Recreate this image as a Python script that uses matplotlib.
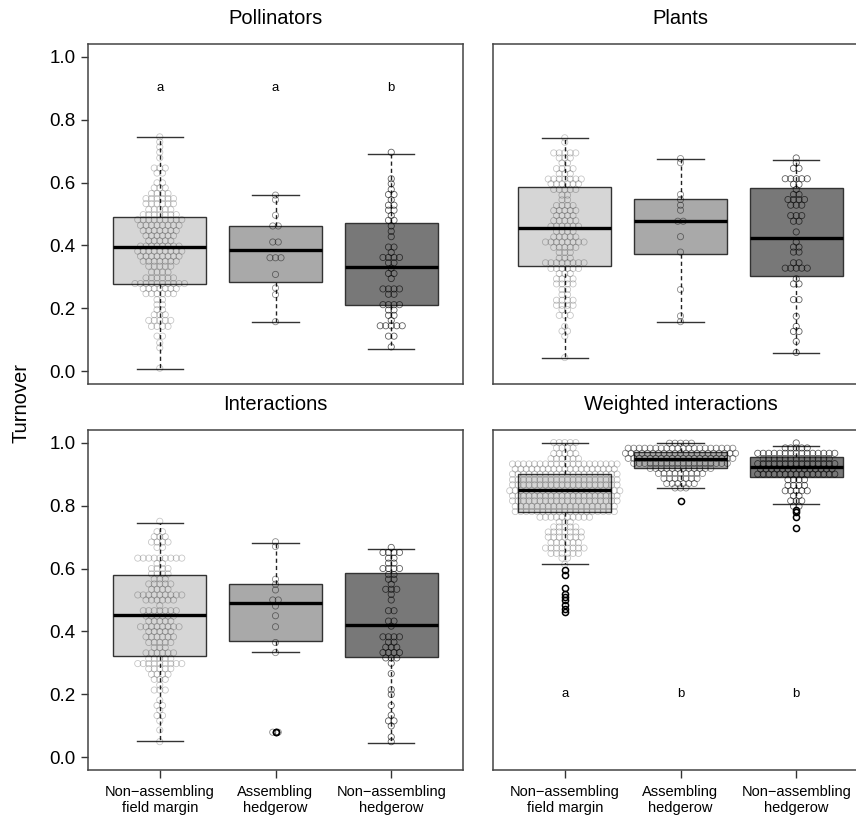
import matplotlib.pyplot as plt
import numpy as np

plt.rcParams['font.family'] = ['Liberation Sans', 'DejaVu Sans']

W, H = 856, 817

groups = ['Non\u2212assembling\nfield margin', 'Assembling\nhedgerow', 'Non\u2212assembling\nhedgerow']
titles = ['Pollinators', 'Plants', 'Interactions', 'Weighted interactions']

# ---- beeswarm rows: row level + number of dots in the row ----
poll1_y = [0.745, 0.729, 0.713, 0.696, 0.678, 0.646, 0.630, 0.599, 0.583, 0.565, 0.549, 0.533, 0.514,
           0.498, 0.482, 0.464, 0.447, 0.431, 0.415, 0.398, 0.382, 0.366, 0.350, 0.334, 0.315, 0.297,
           0.279, 0.263, 0.247, 0.228, 0.212, 0.196, 0.180, 0.162, 0.143, 0.112, 0.091, 0.075, 0.010]
poll1_n = [1, 1, 1, 1, 1, 3, 2, 2, 3, 4, 6, 6, 5, 7, 9, 8, 7, 6, 5, 8, 9, 8, 7, 5, 4, 6, 10, 7, 6, 2,
           2, 2, 3, 5, 4, 2, 1, 1, 1]
poll2_y = [0.560, 0.545, 0.496, 0.462, 0.411, 0.361, 0.308, 0.265, 0.244, 0.158]
poll2_n = [1, 1, 1, 2, 2, 3, 1, 1, 1, 1]
poll3_y = [0.696, 0.612, 0.596, 0.578, 0.562, 0.545, 0.528, 0.512, 0.495, 0.480, 0.462, 0.445, 0.428,
           0.395, 0.378, 0.362, 0.345, 0.328, 0.311, 0.295, 0.262, 0.245, 0.212, 0.195, 0.178, 0.162,
           0.145, 0.112, 0.078]
poll3_n = [1, 1, 1, 1, 2, 1, 2, 2, 1, 2, 1, 1, 1, 2, 1, 4, 2, 1, 2, 1, 4, 2, 4, 2, 2, 1, 5, 2, 1]

plant1_y = [0.742, 0.728, 0.694, 0.678, 0.662, 0.644, 0.628, 0.611, 0.596, 0.578, 0.560, 0.545, 0.527,
            0.511, 0.495, 0.479, 0.461, 0.445, 0.427, 0.411, 0.394, 0.378, 0.360, 0.345, 0.327, 0.311,
            0.294, 0.278, 0.260, 0.244, 0.226, 0.210, 0.196, 0.178, 0.143, 0.128, 0.112, 0.044]
plant1_n = [1, 1, 5, 3, 2, 4, 3, 7, 6, 5, 2, 2, 4, 5, 4, 5, 6, 4, 5, 8, 5, 3, 3, 8, 6, 3, 4, 4, 2, 2,
            4, 4, 2, 3, 1, 2, 1, 1]
plant2_y = [0.676, 0.663, 0.562, 0.546, 0.528, 0.512, 0.477, 0.428, 0.379, 0.260, 0.176, 0.158]
plant2_n = [1, 1, 1, 1, 1, 1, 2, 1, 1, 1, 1, 1]
plant3_y = [0.678, 0.663, 0.645, 0.612, 0.594, 0.578, 0.562, 0.546, 0.528, 0.495, 0.477, 0.443, 0.411,
            0.395, 0.379, 0.345, 0.328, 0.294, 0.278, 0.228, 0.175, 0.143, 0.127, 0.095, 0.060]
plant3_n = [1, 1, 2, 5, 2, 1, 2, 4, 3, 3, 2, 1, 1, 2, 2, 2, 5, 1, 2, 2, 1, 1, 2, 1, 1]

int1_y = [0.750, 0.717, 0.701, 0.684, 0.667, 0.633, 0.616, 0.600, 0.583, 0.567, 0.551, 0.534, 0.516,
          0.500, 0.482, 0.466, 0.449, 0.433, 0.415, 0.400, 0.383, 0.365, 0.349, 0.332, 0.314, 0.298,
          0.282, 0.264, 0.248, 0.230, 0.214, 0.182, 0.165, 0.150, 0.133, 0.116, 0.087, 0.050]
int1_n = [1, 2, 3, 4, 2, 9, 2, 4, 4, 3, 5, 4, 9, 6, 1, 7, 6, 5, 8, 5, 6, 5, 3, 6, 5, 9, 5, 4, 3, 1,
          3, 1, 2, 1, 2, 1, 1, 1]
int2_y = [0.685, 0.670, 0.566, 0.550, 0.532, 0.500, 0.481, 0.450, 0.415, 0.365, 0.333, 0.080]
int2_n = [1, 1, 1, 1, 1, 2, 1, 1, 1, 1, 1, 2]
int3_y = [0.667, 0.651, 0.633, 0.617, 0.600, 0.581, 0.566, 0.550, 0.534, 0.518, 0.500, 0.466, 0.433,
          0.417, 0.383, 0.366, 0.350, 0.333, 0.316, 0.299, 0.266, 0.215, 0.200, 0.165, 0.134, 0.116,
          0.100, 0.065, 0.050]
int3_n = [1, 4, 2, 2, 4, 2, 2, 1, 3, 1, 1, 2, 2, 1, 4, 2, 3, 4, 3, 1, 1, 1, 1, 1, 1, 2, 1, 1, 1]

wint1_y = [1.000, 0.983, 0.965, 0.949, 0.932, 0.916, 0.900, 0.882, 0.866, 0.847, 0.831, 0.815, 0.797,
           0.781, 0.763, 0.748, 0.732, 0.716, 0.700, 0.682, 0.665, 0.648, 0.633, 0.613]
wint1_n = [5, 4, 5, 6, 20, 19, 20, 20, 20, 21, 20, 20, 19, 19, 10, 3, 5, 7, 7, 6, 8, 6, 2, 1]
wint2_y = [0.998, 0.982, 0.966, 0.950, 0.934, 0.918, 0.902, 0.886, 0.870, 0.856]
wint2_n = [5, 20, 21, 20, 18, 12, 9, 7, 6, 3]
wint3_y = [0.999, 0.983, 0.966, 0.949, 0.933, 0.916, 0.900, 0.882, 0.864, 0.847, 0.831, 0.815, 0.798]
wint3_n = [1, 5, 15, 13, 15, 14, 15, 4, 4, 5, 2, 3, 2]

# ---- box statistics ----
poll_lo = [0.009, 0.157, 0.070]
poll_q1 = [0.278, 0.285, 0.210]
poll_med = [0.395, 0.385, 0.331]
poll_q3 = [0.490, 0.461, 0.472]
poll_hi = [0.744, 0.560, 0.691]

plant_lo = [0.041, 0.157, 0.057]
plant_q1 = [0.334, 0.372, 0.303]
plant_med = [0.456, 0.477, 0.425]
plant_q3 = [0.585, 0.549, 0.583]
plant_hi = [0.740, 0.676, 0.672]

int_lo = [0.052, 0.335, 0.046]
int_q1 = [0.323, 0.370, 0.319]
int_med = [0.451, 0.489, 0.421]
int_q3 = [0.581, 0.550, 0.586]
int_hi = [0.745, 0.680, 0.663]
int_out = [[], [0.080, 0.082], []]

wint_lo = [0.614, 0.856, 0.805]
wint_q1 = [0.781, 0.919, 0.891]
wint_med = [0.848, 0.949, 0.921]
wint_q3 = [0.900, 0.970, 0.954]
wint_hi = [1.000, 0.998, 0.990]
wint_out = [[0.595, 0.580, 0.537, 0.520, 0.511, 0.500, 0.484, 0.470, 0.463], [0.813],
            [0.786, 0.778, 0.763, 0.730]]

letters_poll = ['a', 'a', 'b']
letters_wint = ['a', 'b', 'b']

panels = [
    dict(rows=[(poll1_y, poll1_n), (poll2_y, poll2_n), (poll3_y, poll3_n)],
         box=(poll_lo, poll_q1, poll_med, poll_q3, poll_hi), out=[[], [], []],
         letters=letters_poll, let_y=0.9),
    dict(rows=[(plant1_y, plant1_n), (plant2_y, plant2_n), (plant3_y, plant3_n)],
         box=(plant_lo, plant_q1, plant_med, plant_q3, plant_hi), out=[[], [], []],
         letters=None, let_y=None),
    dict(rows=[(int1_y, int1_n), (int2_y, int2_n), (int3_y, int3_n)],
         box=(int_lo, int_q1, int_med, int_q3, int_hi), out=int_out,
         letters=None, let_y=None),
    dict(rows=[(wint1_y, wint1_n), (wint2_y, wint2_n), (wint3_y, wint3_n)],
         box=(wint_lo, wint_q1, wint_med, wint_q3, wint_hi), out=wint_out,
         letters=letters_wint, let_y=0.2),
]

box_fill = ['#d6d6d6', '#a9a9a9', '#787878']
dot_alpha = [0.22, 0.45, 0.62]

# axes boxes in pixels: left, top, right, bottom (right column runs off the image)
px_boxes = [(88, 44, 463, 384), (493, 44, 868, 384),
            (88, 430, 463, 770), (493, 430, 868, 770)]

XLIM = (0.38, 3.62)
DX = 5.5 * (XLIM[1] - XLIM[0]) / 375.0

fig = plt.figure(figsize=(W / 100, H / 100), dpi=100)

for i, p in enumerate(panels):
    l, t, r, b = px_boxes[i]
    ax = fig.add_axes([l / W, 1 - b / H, (r - l) / W, (b - t) / H])
    lo, q1, med, q3, hi = p['box']
    stats = [dict(whislo=lo[k], q1=q1[k], med=med[k], q3=q3[k], whishi=hi[k], fliers=p['out'][k])
             for k in range(3)]
    bp = ax.bxp(stats, positions=[1, 2, 3], widths=0.8, capwidths=0.4, patch_artist=True,
                boxprops=dict(edgecolor='#333333', linewidth=1.0),
                whiskerprops=dict(color='#222222', linestyle=(0, (3, 2.2)), linewidth=1.0),
                capprops=dict(color='#333333', linewidth=1.0),
                medianprops=dict(color='black', linewidth=2.4),
                flierprops=dict(marker='o', markerfacecolor='none', markeredgecolor='black',
                                markersize=4.4, markeredgewidth=1.1),
                manage_ticks=False, zorder=2)
    for k, patch in enumerate(bp['boxes']):
        patch.set_facecolor(box_fill[k])

    for k, (ys, ns) in enumerate(p['rows']):
        xs, yy = [], []
        for y, n in zip(ys, ns):
            for j in range(n):
                xs.append(k + 1 + (j - (n - 1) / 2) * DX)
                yy.append(y)
        ax.scatter(xs, yy, s=20, facecolors='none', edgecolors=(0, 0, 0, dot_alpha[k]),
                   linewidths=0.6, zorder=4)

    if p['letters']:
        for k, s in enumerate(p['letters']):
            ax.text(k + 1, p['let_y'], s, ha='center', va='center', fontsize=9.5)

    ax.set_xlim(*XLIM)
    ax.set_ylim(-0.04, 1.04)
    for sp in ax.spines.values():
        sp.set_color('#444444')
        sp.set_linewidth(1.1)

    if i % 2 == 0:
        ax.set_yticks(np.arange(0, 1.01, 0.2))
        ax.set_yticklabels(['%.1f' % v for v in np.arange(0, 1.01, 0.2)], fontsize=13.5)
        ax.tick_params(axis='y', length=5, width=1, color='#333333', pad=4)
    else:
        ax.set_yticks([])

    if i >= 2:
        ax.set_xticks([1, 2, 3])
        ax.set_xticklabels(groups, fontsize=10.5, linespacing=1.15)
        ax.tick_params(axis='x', length=6, width=1, color='#333333', pad=5)
    else:
        ax.set_xticks([])

    ax.text(0.5, 1 + 26 / 340, titles[i], transform=ax.transAxes, ha='center', va='center',
            fontsize=14.5)

fig.text(21 / W, 1 - 403 / H, 'Turnover', rotation=90, ha='center', va='center', fontsize=14.5)

fig.savefig('out.png', dpi=100)
